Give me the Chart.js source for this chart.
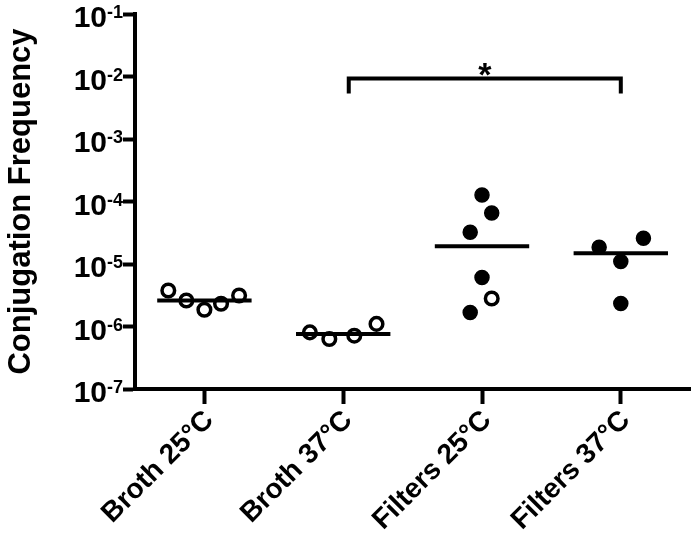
<!DOCTYPE html>
<html>
<head>
<meta charset="utf-8">
<script src="https://cdn.jsdelivr.net/npm/chart.js@4.4.1/dist/chart.umd.min.js"></script>
<style>html,body{margin:0;padding:0;background:#fff;}canvas{display:block;}</style>
</head>
<body>
<canvas id="c" width="700" height="535"></canvas>
<script>
// ---- data ----
const categories = ['Broth 25°C', 'Broth 37°C', 'Filters 25°C', 'Filters 37°C'];
const yTickValues = [1e-7, 1e-6, 1e-5, 1e-4, 1e-3, 1e-2, 1e-1];
const yTickExponents = ['-7', '-6', '-5', '-4', '-3', '-2', '-1'];

const broth25 = [3.77e-6, 2.61e-6, 1.85e-6, 2.31e-6, 3.13e-6];          // open
const broth25Jitter = [-0.26, -0.13, 0.0, 0.12, 0.25];
const broth37 = [8.05e-7, 6.3e-7, 7.13e-7, 1.10e-6];                    // open
const broth37Jitter = [-0.24, -0.10, 0.08, 0.24];
const filters25Filled = [1.27e-4, 6.53e-5, 3.23e-5, 6.1e-6, 1.67e-6];
const filters25FilledJitter = [0.0, 0.07, -0.085, 0.0, -0.085];
const filters25Open = [2.8e-6];
const filters25OpenJitter = [0.07];
const filters37 = [1.85e-5, 2.59e-5, 1.10e-5, 2.33e-6];                 // filled
const filters37Jitter = [-0.156, 0.163, 0.0, 0.0];
const medians = [2.61e-6, 7.59e-7, 1.92e-5, 1.49e-5];
const bracket = { from: 1.04, to: 3.0, value: 9.3e-3, label: '*' };

// ---- build chart ----
const FONT = "'Liberation Sans', Arial, Helvetica, sans-serif";
function pts(values, jitter, idx) {
  return values.map((v, i) => ({ x: idx + jitter[i], y: v }));
}
const medianHalf = 0.34;
const medianSets = medians.map((m, i) => ({
  type: 'line',
  data: [{ x: i - medianHalf, y: m }, { x: i + medianHalf, y: m }],
  borderColor: '#000', borderWidth: 4, pointRadius: 0, showLine: true, fill: false,
  borderCapStyle: 'butt'
}));
const openStyle = { pointRadius: 6.3, pointBorderWidth: 3.5, pointBorderColor: '#000', pointBackgroundColor: 'rgba(255,255,255,0)', showLine: false };
const filledStyle = { pointRadius: 7, pointBorderWidth: 1.5, pointBorderColor: '#000', pointBackgroundColor: '#000', showLine: false };

const datasets = [
  ...medianSets,
  Object.assign({ data: pts(broth25, broth25Jitter, 0) }, openStyle),
  Object.assign({ data: pts(broth37, broth37Jitter, 1) }, openStyle),
  Object.assign({ data: pts(filters25Filled, filters25FilledJitter, 2) }, filledStyle),
  Object.assign({ data: pts(filters25Open, filters25OpenJitter, 2) }, openStyle),
  Object.assign({ data: pts(filters37, filters37Jitter, 3) }, filledStyle)
];

const overlay = {
  id: 'overlay',
  afterDraw(chart) {
    const ctx = chart.ctx;
    const y = chart.scales.y, x = chart.scales.x;
    ctx.save();
    ctx.fillStyle = '#000';
    // y tick labels: 10 with superscript exponent
    const rightEdge = 123;
    yTickValues.forEach((v, i) => {
      const py = y.getPixelForValue(v);
      ctx.font = 'bold 18px ' + FONT;
      const exp = yTickExponents[i];
      const ew = ctx.measureText(exp).width;
      ctx.textAlign = 'left';
      ctx.textBaseline = 'alphabetic';
      ctx.fillText(exp, rightEdge - ew, py + 4);
      ctx.font = 'bold 30px ' + FONT;
      ctx.textAlign = 'right';
      ctx.fillText('10', rightEdge - ew, py + 13);
    });
    // significance bracket
    const x1 = x.getPixelForValue(bracket.from);
    const x2 = x.getPixelForValue(bracket.to);
    const by = y.getPixelForValue(bracket.value);
    ctx.strokeStyle = '#000';
    ctx.lineWidth = 4;
    ctx.lineCap = 'butt';
    ctx.lineJoin = 'miter';
    ctx.beginPath();
    ctx.moveTo(x1, by + 15);
    ctx.lineTo(x1, by);
    ctx.lineTo(x2, by);
    ctx.lineTo(x2, by + 15);
    ctx.stroke();
    ctx.font = 'bold 34px ' + FONT;
    ctx.textAlign = 'center';
    ctx.textBaseline = 'alphabetic';
    ctx.fillText(bracket.label, (x1 + x2) / 2, by + 8);
    ctx.restore();
  }
};

new Chart(document.getElementById('c'), {
  type: 'scatter',
  data: { datasets },
  options: {
    responsive: false,
    animation: false,
    events: [],
    layout: { padding: { top: 14, right: 0, left: 0, bottom: 0 } },
    plugins: { legend: { display: false }, tooltip: { enabled: false } },
    scales: {
      x: {
        type: 'linear', min: -0.5, max: 3.5,
        afterBuildTicks: s => { s.ticks = [0, 1, 2, 3].map(v => ({ value: v })); },
        afterFit: s => { s.height = 146; s.paddingLeft = 0; s.paddingRight = 0; },
        ticks: {
          callback: v => categories[v],
          autoSkip: false, maxRotation: 45, minRotation: 45, labelOffset: 5,
          color: '#000', font: { family: FONT, size: 28, weight: 'bold' }, padding: 0
        },
        grid: { drawOnChartArea: false, drawTicks: true, tickLength: 15, tickWidth: 4, color: '#000' },
        border: { display: true, width: 4, color: '#000' }
      },
      y: {
        type: 'logarithmic', min: 1e-7, max: 1e-1,
        afterBuildTicks: s => { s.ticks = yTickValues.map(v => ({ value: v })); },
        afterFit: s => { s.width = 135; s.paddingTop = 0; s.paddingBottom = 0; },
        ticks: { display: false },
        title: {
          display: true, text: 'Conjugation Frequency', color: '#000',
          font: { family: FONT, size: 31, weight: 'bold' }, padding: { top: 3, bottom: 0 }
        },
        grid: { drawOnChartArea: false, drawTicks: true, tickLength: 12, tickWidth: 4, color: '#000' },
        border: { display: true, width: 4, color: '#000' }
      }
    }
  },
  plugins: [overlay]
});
</script>
</body>
</html>
